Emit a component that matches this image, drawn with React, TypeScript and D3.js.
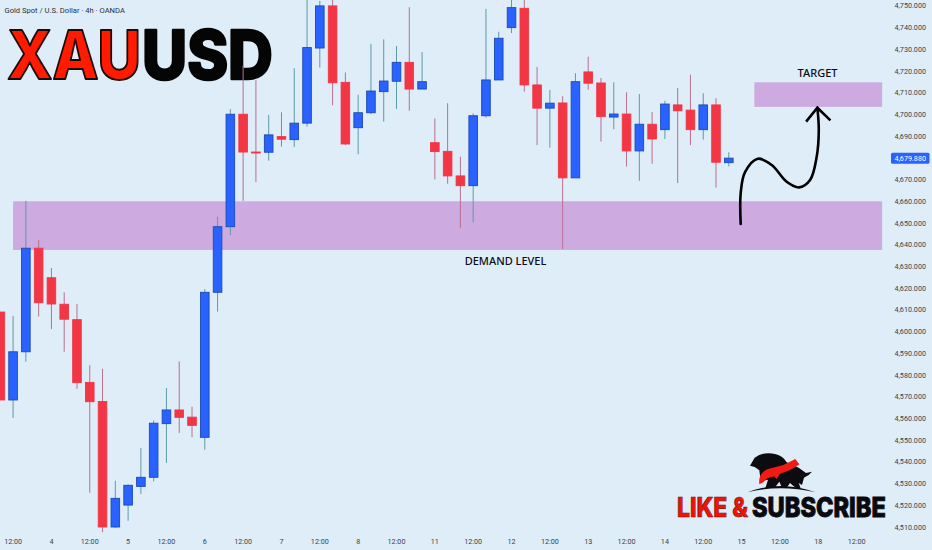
import React, { useEffect, useRef } from 'react';
import * as d3 from 'd3';

// 4h candles
const opens = [4609, 4568.5, 4590.7, 4638.4, 4624.8, 4612.6, 4605.5, 4576.6, 4567.8, 4510, 4520.1, 4528.7, 4532.9, 4557.6, 4563.9, 4560.6, 4551.3, 4618.1, 4648.3, 4700.1, 4682.7, 4682.6, 4689.8, 4688.4, 4696, 4730.6, 4750, 4714.8, 4693.9, 4700.8, 4710.5, 4715.3, 4724, 4711.7, 4687, 4683, 4671.7, 4667.2, 4699.4, 4715.9, 4740, 4748.9, 4713.6, 4702.9, 4705.3, 4670.8, 4719.6, 4714.5, 4698.8, 4700.2, 4683.2, 4695.5, 4693, 4704.4, 4702, 4693, 4704.4, 4677.8];
const closes = [4568.5, 4590.7, 4638.4, 4613.3, 4612.7, 4605.7, 4576.5, 4567.7, 4510, 4523.2, 4529.2, 4532.9, 4557.8, 4563.9, 4560.5, 4556.8, 4618.1, 4648.3, 4700.1, 4682.7, 4682.5, 4690.6, 4688.6, 4696, 4730.8, 4750, 4714.6, 4686.4, 4700.8, 4710.8, 4715.4, 4724, 4711.7, 4715.1, 4682.9, 4671.7, 4667.2, 4699.4, 4715.9, 4735.1, 4749.2, 4713.6, 4702.9, 4705.2, 4670.8, 4715.1, 4714.4, 4699, 4700.2, 4683.2, 4695.5, 4688.7, 4704.8, 4701.7, 4693, 4704.4, 4678, 4679.88];
const highs = [4609, 4607.2, 4660.2, 4642.2, 4629.3, 4618.1, 4612.7, 4584.5, 4582.9, 4531.3, 4529.7, 4546.4, 4559, 4574, 4586.3, 4565.4, 4619.5, 4652.9, 4702.5, 4722.5, 4715.9, 4699.8, 4701, 4721.3, 4753.7, 4752.3, 4754, 4719.3, 4709.1, 4732.5, 4734.6, 4731.5, 4749.4, 4728.8, 4698.2, 4705.2, 4680.6, 4700.5, 4748.6, 4738.1, 4754, 4754, 4721.9, 4711.3, 4708.4, 4719, 4726.6, 4716.8, 4714.8, 4710.2, 4709.4, 4701.1, 4706.3, 4712.2, 4718.3, 4709.8, 4707.5, 4682.6];
const lows = [4568.5, 4560.2, 4586.1, 4606.9, 4601.2, 4590.7, 4573.6, 4525.8, 4507.6, 4509.5, 4512.9, 4525.1, 4531, 4539.5, 4553.3, 4551.3, 4545.6, 4609.2, 4644.4, 4660.2, 4668.8, 4678.7, 4685.2, 4685, 4694.4, 4721.6, 4704.2, 4685.9, 4681.7, 4700.2, 4696.7, 4702.5, 4701.7, 4711.7, 4670.1, 4668.1, 4647.6, 4650.3, 4698.5, 4715.9, 4737.5, 4710.5, 4685.9, 4684.7, 4638, 4670.8, 4711.4, 4687.5, 4693.2, 4676, 4669.4, 4677.3, 4688.7, 4668.4, 4685.9, 4688.4, 4666.3, 4676.1];

const priceTicks = d3.range(4510, 4751, 10);
const lastPrice = 4679.88;

// bar index of each time label
const timeIdx = [1, 4, 7, 10, 13, 16, 19, 22, 25, 28, 31, 34, 37, 40, 43, 46, 49, 52, 55, 58, 61, 64, 67];
const timeLabels = ['12:00', '4', '12:00', '5', '12:00', '6', '12:00', '7', '12:00', '8', '12:00', '11', '12:00', '12', '12:00', '13', '12:00', '14', '12:00', '15', '12:00', '18', '12:00'];

// zones: [startIdx, endIdx, top price, bottom price]
const zones: [number, number, number, number][] = [
    [1, 69, 4660, 4637.6],
    [59, 69, 4714.8, 4703.5],
];

// hand drawn projection, [bar index, price]
const arrowPath: [number, number][] = [
    [57.93, 4649.6], [57.93, 4663.8], [58.27, 4673.4], [59.27, 4679.6], [60.36, 4676.7], [61.53, 4669],
    [62.5, 4666.4], [63.36, 4669.8], [63.88, 4680.6], [64.04, 4692.9], [63.93, 4703.1],
];
const arrowHead: [number, number][] = [[63.05, 4696.7], [63.93, 4703.1], [64.95, 4697.3]];

const BG = '#dfedf9';
const ZONE = '#cdaae0';
const RED = '#f23645';
const BLUE = '#2962ff';

// squeeze a text into a given width without textLength
const fit = (sel: d3.Selection<SVGTextElement, unknown, null, undefined>, x: number, y: number, w: number) => {
    const natural = sel.node()!.getComputedTextLength();
    sel.attr('transform', `translate(${x},${y}) scale(${w / natural},1)`);
};

const App: React.FC = () => {
    const ref = useRef<SVGSVGElement | null>(null);

    useEffect(() => {
        if (!ref.current) return;
        const svg = d3.select(ref.current);
        svg.selectAll('*').remove();

        const x = d3.scaleLinear().domain([0, 57]).range([0.3, 728.8]);
        const y = d3.scaleLinear().domain([4510, 4750]).range([527, 5.9]);

        svg.append('rect').attr('width', 932).attr('height', 550).attr('fill', BG);

        svg.selectAll('rect.zone')
            .data(zones)
            .enter()
            .append('rect')
            .attr('class', 'zone')
            .attr('x', (d) => x(d[0]))
            .attr('width', (d) => x(d[1]) - x(d[0]))
            .attr('y', (d) => y(d[2]))
            .attr('height', (d) => y(d[3]) - y(d[2]))
            .attr('fill', ZONE);

        // big title sits under the candles
        const title = svg.append('g').attr('font-family', 'Inter').attr('font-weight', 800).attr('font-size', 68);
        const xau = title.append('text').text('XAU')
            .attr('fill', '#ff1a00').attr('stroke', '#1a0a08').attr('stroke-width', 2)
            .attr('stroke-linejoin', 'round') as any;
        fit(xau, 7, 79, 134);
        const usd = title.append('text').text('USD')
            .attr('fill', '#050505').attr('stroke', '#050505').attr('stroke-width', 2.4)
            .attr('stroke-linejoin', 'round') as any;
        fit(usd, 142, 79, 131);

        const idx = d3.range(opens.length);
        const bodyW = 8.6;

        svg.append('g').selectAll('line')
            .data(idx)
            .enter()
            .append('line')
            .attr('x1', (i) => x(i))
            .attr('x2', (i) => x(i))
            .attr('y1', (i) => y(highs[i]))
            .attr('y2', (i) => y(lows[i]))
            .attr('stroke', (i) => (closes[i] >= opens[i] ? '#5c9ca6' : '#b8708e'))
            .attr('stroke-width', 1);

        svg.append('g').selectAll('rect')
            .data(idx)
            .enter()
            .append('rect')
            .attr('x', (i) => x(i) - bodyW / 2)
            .attr('width', bodyW)
            .attr('y', (i) => y(Math.max(opens[i], closes[i])))
            .attr('height', (i) => Math.max(1, Math.abs(y(opens[i]) - y(closes[i]))))
            .attr('fill', (i) => (closes[i] >= opens[i] ? BLUE : RED))
            .attr('stroke', (i) => (closes[i] >= opens[i] ? '#1b4bb0' : RED))
            .attr('stroke-width', 0.9);

        // projection arrow
        const curve = d3.line<[number, number]>()
            .x((d) => x(d[0]))
            .y((d) => y(d[1]))
            .curve(d3.curveCatmullRom.alpha(0.5));
        svg.append('path').attr('d', curve(arrowPath))
            .attr('fill', 'none').attr('stroke', '#000').attr('stroke-width', 2.6).attr('stroke-linecap', 'round');
        svg.append('path').attr('d', curve.curve(d3.curveLinear)(arrowHead))
            .attr('fill', 'none').attr('stroke', '#000').attr('stroke-width', 2.6);

        // zone labels
        const labels = svg.append('g').attr('font-family', 'Noto Sans').attr('font-size', 11).attr('font-weight', 500).attr('fill', '#0c0c14').attr('text-anchor', 'middle');
        labels.append('text').text('TARGET').attr('x', 817.5).attr('y', 76.5);
        labels.append('text').text('DEMAND LEVEL').attr('x', 505.5).attr('y', 264.5);

        // header
        svg.append('text').text('Gold Spot / U.S. Dollar · 4h · OANDA')
            .attr('x', 4.5).attr('y', 13)
            .attr('font-family', 'Roboto').attr('font-size', 7.6).attr('fill', '#2c2f38');

        // price axis
        svg.append('g').selectAll('text')
            .data(priceTicks)
            .enter()
            .append('text')
            .text((d) => d3.format(',.3f')(d))
            .attr('x', 926)
            .attr('y', (d) => y(d))
            .attr('dy', '0.35em')
            .attr('text-anchor', 'end')
            .attr('font-family', 'Roboto').attr('font-size', 7.2).attr('fill', '#3a3f4a');

        svg.append('rect')
            .attr('x', 891).attr('width', 38.5)
            .attr('y', y(lastPrice) - 5.5).attr('height', 11)
            .attr('rx', 1.5).attr('fill', BLUE);
        svg.append('text').text(d3.format(',.3f')(lastPrice))
            .attr('x', 926).attr('y', y(lastPrice)).attr('dy', '0.35em')
            .attr('text-anchor', 'end')
            .attr('font-family', 'Roboto').attr('font-size', 7.2).attr('fill', '#fff');

        // time axis
        svg.append('g').selectAll('text')
            .data(timeIdx)
            .enter()
            .append('text')
            .text((_, i) => timeLabels[i])
            .attr('x', (d) => x(d))
            .attr('y', 541)
            .attr('dy', '0.35em')
            .attr('text-anchor', 'middle')
            .attr('font-family', 'Roboto').attr('font-size', 7.2).attr('fill', '#3a3f4a');

        // like & subscribe badge
        const badge = svg.append('g').attr('font-family', 'Inter').attr('font-weight', 800).attr('font-size', 27);
        const like = badge.append('text').text('LIKE &')
            .attr('fill', '#f01408').attr('stroke', '#7a1410').attr('stroke-width', 0.7) as any;
        fit(like, 677, 517, 71);
        const sub = badge.append('text').text('SUBSCRIBE')
            .attr('fill', '#0a0a0e').attr('stroke', '#0a0a0e').attr('stroke-width', 0.9) as any;
        fit(sub, 752, 517, 134);

        const logo = svg.append('g').attr('transform', 'translate(740,445) scale(0.3333)');
        logo.append('path')
            .attr('d', 'M30 62 L44 38 Q72 18 108 28 Q130 34 140 52 L176 68 L198 84 L216 80 L206 90 L192 98 L186 120 L176 114 L182 130 L168 130 L150 114 L140 128 L126 128 L118 110 L104 128 L76 130 L84 104 L62 108 L58 76 L44 66 Z')
            .attr('fill', '#0c0c10');
        logo.append('path')
            .attr('d', 'M58 118 Q54 84 84 72 L130 60 L166 42 L178 58 Q156 76 120 86 L110 102 L102 94 L82 100 L70 112 Z')
            .attr('fill', '#f01c14');
        logo.append('path')
            .attr('d', 'M22 142 Q120 104 226 142 Q120 118 22 142 Z')
            .attr('fill', '#0c0c10');
    }, []);

    return <svg ref={ref} width={932} height={550} style={{ position: 'absolute', left: 0, top: 0 }} />;
};

export default App;
